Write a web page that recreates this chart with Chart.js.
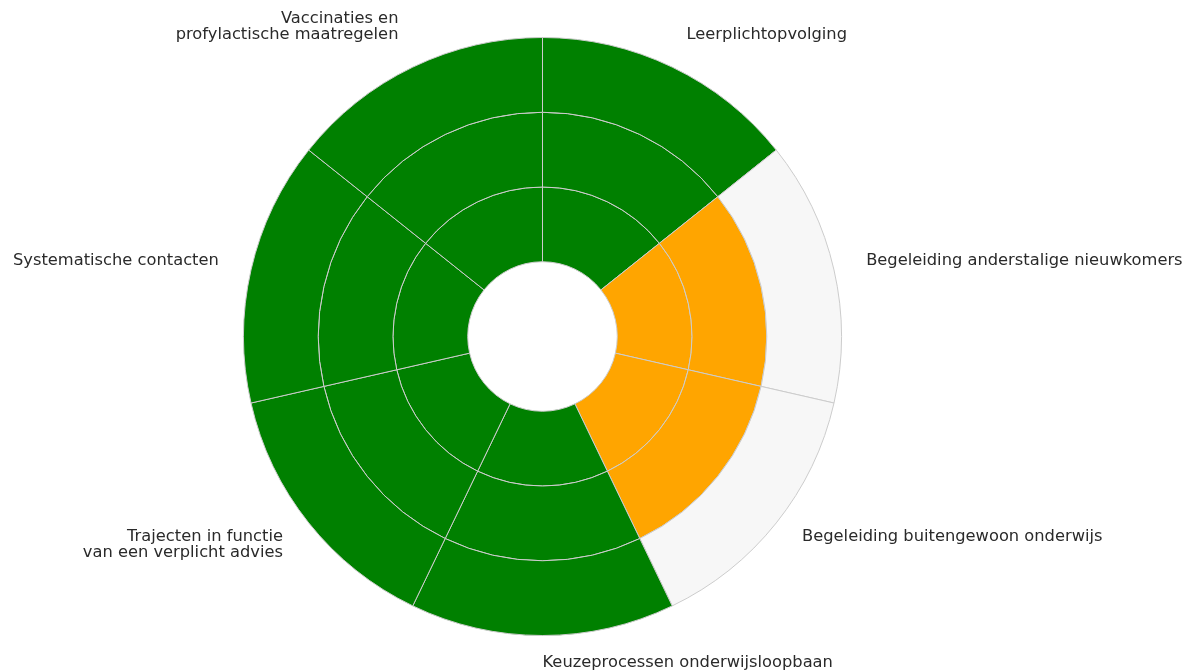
<!DOCTYPE html>
<html>
<head>
<meta charset="utf-8">
<script src="https://cdn.jsdelivr.net/npm/chart.js@4"></script>
<style>
  html, body { margin: 0; padding: 0; background: #fff; }
  #wrap { width: 1202px; height: 670px; }
</style>
</head>
<body>
<div id="wrap"><canvas id="myChart"></canvas></div>
<script>
// categorieën (met regelafbreking zoals in de figuur)
const categorieen = [
  ['Leerplichtopvolging'],
  ['Begeleiding anderstalige nieuwkomers'],
  ['Begeleiding buitengewoon onderwijs'],
  ['Keuzeprocessen onderwijsloopbaan'],
  ['Trajecten in functie', 'van een verplicht advies'],
  ['Systematische contacten'],
  ['Vaccinaties en', 'profylactische maatregelen']
];
// behaalde niveau per categorie (max 3)
const score = [3, 2, 2, 3, 3, 3, 3];
const maxScore = 3;
// elke sector even breed
const gewicht = [1, 1, 1, 1, 1, 1, 1];
const niveaus = ['Niveau 1', 'Niveau 2', 'Niveau 3'];

const GROEN = '#008000';
const ORANJE = '#ffa500';
const GRIJS = '#f7f7f7';

function kleur(niveau, s) {
  if (s >= maxScore) return GROEN;
  return niveau <= s ? ORANJE : GRIJS;
}

// dataset 0 is de buitenste ring in een doughnut, dus omdraaien
const datasets = niveaus.map((naam, i) => {
  const niveau = i + 1;
  return {
    label: naam,
    data: gewicht,
    backgroundColor: score.map(s => kleur(niveau, s)),
    borderColor: '#cccccc',
    borderWidth: 1,
    hoverBorderWidth: 1
  };
}).reverse();

// labels buiten de cirkel tekenen
const labelPlugin = {
  id: 'labels',
  afterDraw(chart) {
    const ctx = chart.ctx;
    const meta = chart.getDatasetMeta(0);
    ctx.save();
    ctx.font = '16.3px "DejaVu Sans"';
    ctx.fillStyle = '#2a2a2a';
    ctx.textBaseline = 'alphabetic';
    meta.data.forEach((arc, i) => {
      const mid = (arc.startAngle + arc.endAngle) / 2;
      const R = arc.outerRadius + 33;
      const x = arc.x + Math.cos(mid) * R;
      const y = arc.y + Math.sin(mid) * R;
      const regels = categorieen[i];
      ctx.textAlign = Math.cos(mid) > -1e-6 ? 'left' : 'right';
      const lh = 16;
      regels.forEach((r, j) => {
        let yy;
        if (Math.sin(mid) < 0) {
          yy = y - (regels.length - 1 - j) * lh + 2;
        } else {
          yy = y + j * lh - 2;
        }
        ctx.fillText(r, x, yy);
      });
    });
    ctx.restore();
  }
};

new Chart(document.getElementById('myChart'), {
  type: 'doughnut',
  data: {
    labels: categorieen.map(c => c.join(' ')),
    datasets: datasets
  },
  options: {
    responsive: true,
    maintainAspectRatio: false,
    animation: false,
    radius: 299,
    cutout: '25%',
    layout: { padding: { left: 0, right: 117, top: 3, bottom: 0 } },
    plugins: {
      legend: { display: false },
      tooltip: { enabled: false }
    }
  },
  plugins: [labelPlugin]
});
</script>
</body>
</html>
